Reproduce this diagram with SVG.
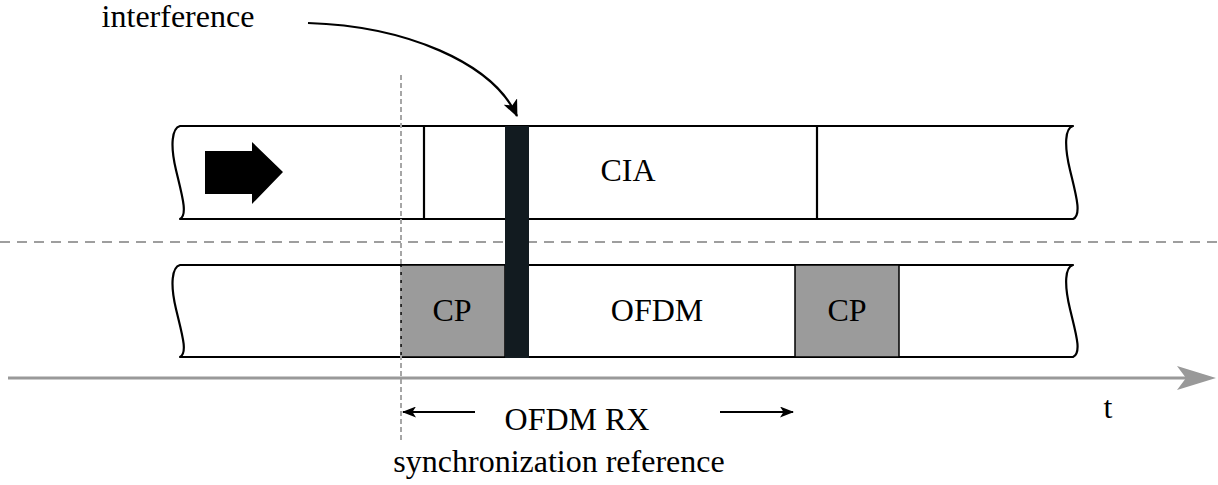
<svg xmlns="http://www.w3.org/2000/svg" width="1218" height="485" viewBox="0 0 1218 485">
<style>
.band{fill:#fff;stroke:#000;stroke-width:2.2;stroke-linejoin:round}
.div{stroke:#000;stroke-width:2.2}
.cp{fill:#9b9b9b;stroke:#000;stroke-width:1.5}
.lbl{font-family:"Liberation Serif","DejaVu Serif",serif;font-size:32px;fill:#000;text-anchor:middle}
.conn{fill:none;stroke:#000;stroke-width:2.2}
</style>
<defs>
<marker id="ah" viewBox="0 0 14 11" refX="13" refY="5.5" markerWidth="14" markerHeight="11" markerUnits="userSpaceOnUse" orient="auto">
<path d="M0,0 L14,5.5 L0,11 L3.5,5.5 Z" fill="#000"/>
</marker>
<marker id="ah2" viewBox="0 0 17 15" refX="16" refY="7.5" markerWidth="17" markerHeight="15" markerUnits="userSpaceOnUse" orient="auto">
<path d="M0,0 L17,7.5 L0,15 L4.5,7.5 Z" fill="#000"/>
</marker>
</defs>
<line x1="0" y1="242" x2="1218" y2="242" stroke="#9e9e9e" stroke-width="2" stroke-dasharray="10,7"/>
<g id="top-band">
<path class="band" d="M180,126 L1073,126 C1065,128 1064,145 1070,170 C1076,195 1082,215 1073,219 L180,219 C188,215 182,195 176,170 C170,145 172,128 180,126 Z"/>
<line class="div" x1="424" y1="126" x2="424" y2="219"/>
<line class="div" x1="817" y1="126" x2="817" y2="219"/>
<path d="M205,151 L252,151 L252,142 L283,172 L252,204 L252,194 L205,194 Z" fill="#000"/>
<text class="lbl" x="628" y="181">CIA</text>
</g>
<g id="bottom-band">
<path class="band" d="M180,265 L1073,265 C1065,267 1064,284 1070,309 C1076,334 1082,353 1073,357 L180,357 C188,353 182,334 176,309 C170,284 172,267 180,265 Z"/>
<rect class="cp" x="401" y="265" width="104" height="92"/>
<rect class="cp" x="795" y="265" width="104" height="92"/>
<text class="lbl" x="452" y="321">CP</text>
<text class="lbl" x="847" y="321">CP</text>
<text class="lbl" x="657" y="321">OFDM</text>
</g>
<g id="interference-bar">
<rect x="505" y="126" width="24" height="232" fill="#121b20"/>
</g>
<g id="sync-line">
<line x1="401" y1="75" x2="401" y2="440" stroke="#a6a6a6" stroke-width="2" stroke-dasharray="5,3"/>
</g>
<g id="axis">
<line x1="8" y1="378" x2="1186" y2="378" stroke="#999" stroke-width="3"/>
<path d="M1216,378 L1177,366 L1186,378 L1177,390 Z" fill="#999"/>
<text class="lbl" x="1108" y="418">t</text>
</g>
<g id="connectors">
<path class="conn" d="M308,23 C405,26 492,62 517,116" marker-end="url(#ah2)"/>
<line class="conn" x1="475" y1="412" x2="403" y2="412" marker-end="url(#ah)"/>
<line class="conn" x1="720" y1="412" x2="793" y2="412" marker-end="url(#ah)"/>
</g>
<g id="labels">
<text class="lbl" x="178" y="27">interference</text>
<text class="lbl" x="577" y="430">OFDM RX</text>
<text class="lbl" x="559" y="472">synchronization reference</text>
</g>
</svg>
